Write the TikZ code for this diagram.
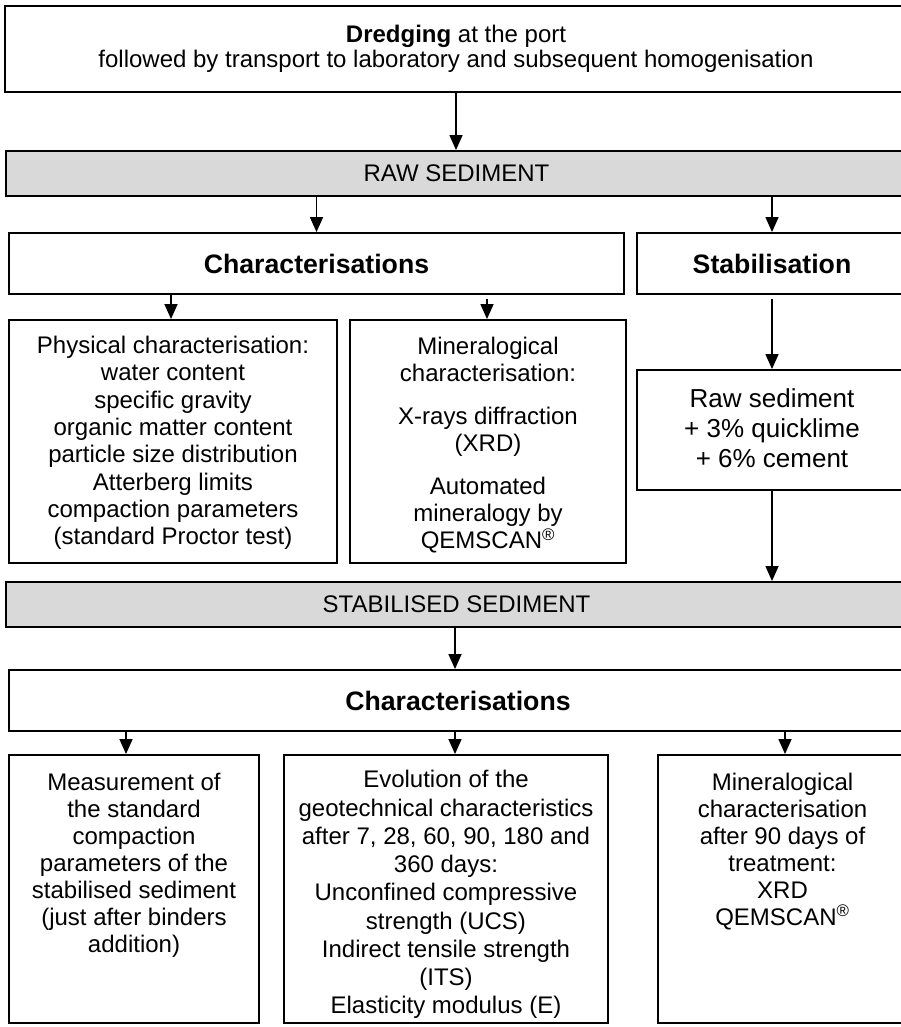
\documentclass[tikz,border=0pt]{standalone}
\usepackage{fontspec}
\setmainfont{Liberation Sans}
\usetikzlibrary{arrows.meta,fit}
\definecolor{barfill}{RGB}{217,217,217}
\begin{document}
\begin{tikzpicture}[x=0.75pt,y=-0.75pt,
  box/.style={draw, line width=1.4pt, inner sep=0pt},
  bar/.style={box, fill=barfill},
  arr/.style={line width=1.1pt, -{Triangle[width=9.75pt,length=11.25pt]}},
  txt/.style={font=\fontsize{18}{20.25}\selectfont},
  ttl/.style={font=\fontsize{20}{24}\selectfont\bfseries},
  label/.style={align=center, inner sep=0pt},
  inner/.style={txt, anchor=north, align=center, inner sep=0pt}]
\useasboundingbox (0,0) rectangle (900,1027);

% boxes
\node[box, fit={(5,6) (907,92)}] (dredge) {};
\node[bar, fit={(6,151) (907,196)}] (rawbar) {};
\node[box, fit={(9,233) (624,294)}] (char1) {};
\node[box, fit={(637,233) (907,294)}] (stab) {};
\node[box, fit={(9,320) (337,563)}] (phys) {};
\node[box, fit={(350,320) (626,563)}] (min1) {};
\node[box, fit={(637,370) (907,490)}] (rawsed) {};
\node[bar, fit={(6,582) (907,627)}] (stabbar) {};
\node[box, fit={(9,670) (907,731)}] (char2) {};
\node[box, fit={(9,755) (259,1023)}] (meas) {};
\node[box, fit={(284,755) (608,1023)}] (evol) {};
\node[box, fit={(658,755) (907,1023)}] (minb) {};

% texts
\node[label, font=\fontsize{18}{18.75}\selectfont] (dredgetxt) at (dredge.center)
  {\textbf{Dredging} at the port\\followed by transport to laboratory and subsequent homogenisation};
\node[label, txt] (rawbartxt) at (rawbar.center) {RAW SEDIMENT};
\node[label, ttl] (char1txt) at (char1.center) {Characterisations};
\node[label, ttl] (stabtxt) at (stab.center) {Stabilisation};
\node[label, font=\fontsize{18}{20.5}\selectfont] (phystxt) at ([yshift=-1pt]phys.center)
  {Physical characterisation:\\water content\\specific gravity\\organic matter content\\particle size distribution\\Atterberg limits\\compaction parameters\\(standard Proctor test)};
\node[label, txt] (min1txt) at ([yshift=-3pt]min1.center)
  {Mineralogical\\characterisation:\\[12pt]X-rays diffraction\\(XRD)\\[12pt]Automated\\mineralogy by\\QEMSCAN\textsuperscript{®}};
\node[label, font=\fontsize{19.5}{22.5}\selectfont] (rawsedtxt) at ([yshift=1.5pt]rawsed.center)
  {Raw sediment\\+ 3\% quicklime\\+ 6\% cement};
\node[label, txt] (stabbartxt) at (stabbar.center) {STABILISED SEDIMENT};
\node[label, ttl] (char2txt) at (char2.center) {Characterisations};

\node[inner] (meastxt) at ([yshift=-13.9pt]meas.north)
  {Measurement of\\the standard\\compaction\\parameters of the\\stabilised sediment\\(just after binders\\addition)};
\node[inner, font=\fontsize{18}{21.2}\selectfont] (evoltxt) at ([yshift=-12pt]evol.north)
  {Evolution of the\\geotechnical characteristics\\after 7, 28, 60, 90, 180 and\\360 days:\\Unconfined compressive\\strength (UCS)\\Indirect tensile strength\\(ITS)\\Elasticity modulus (E)};
\node[inner] (minbtxt) at ([yshift=-13.9pt]minb.north)
  {Mineralogical\\characterisation\\after 90 days of\\treatment:\\XRD\\QEMSCAN\textsuperscript{®}};

% arrow positions
\coordinate (xa) at (126,0);
\coordinate (xb) at (455,0);
\coordinate (xc) at (785,0);
\coordinate (xp) at (171,0);
\coordinate (xm) at (487,0);

% connectors
\draw[arr] (dredge.south) -- (rawbar.north -| dredge.south);
\draw[arr] (rawbar.south -| char1.north) -- (char1.north);
\draw[arr] (rawbar.south -| stab.north) -- (stab.north);
\draw[arr] (char1.south -| xp) -- (phys.north -| xp);
\draw[arr, shorten <=3pt] (char1.south -| xm) -- (min1.north -| xm);
\draw[arr, shorten <=3pt] (stab.south) -- (rawsed.north);
\draw[arr] (rawsed.south) -- (stabbar.north -| rawsed.south);
\draw[arr] (stabbar.south -| xb) -- (char2.north -| xb);
\draw[arr] (char2.south -| xa) -- (meas.north -| xa);
\draw[arr] (char2.south -| xb) -- (evol.north -| xb);
\draw[arr] (char2.south -| xc) -- (minb.north -| xc);
\end{tikzpicture}
\end{document}
